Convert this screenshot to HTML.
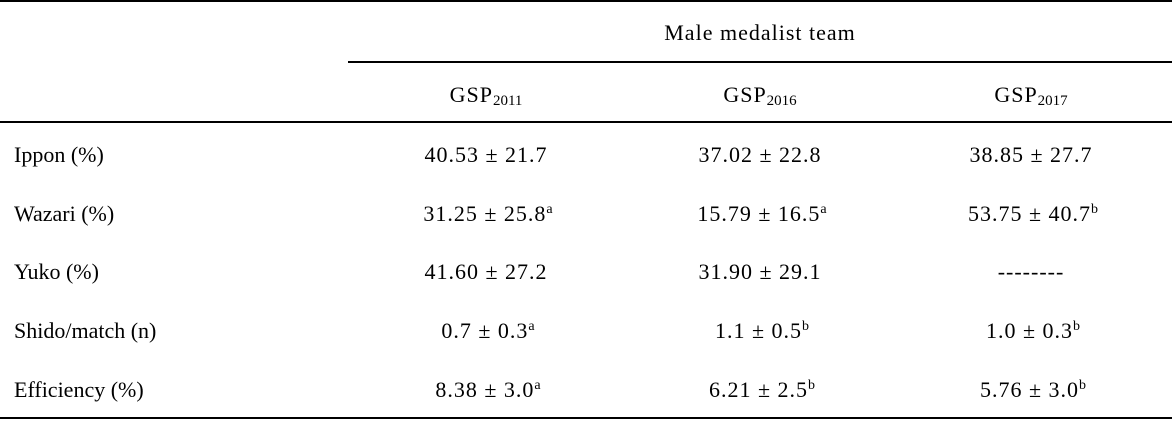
<!DOCTYPE html>
<html><head><meta charset="utf-8"><style>
body{margin:0;background:#fff;}
#t{position:relative;width:1172px;height:421px;font-family:"Liberation Serif",serif;font-size:22px;color:#000;}
.l{position:absolute;background:#000;height:2px;}
.c{position:absolute;transform:translate(-50%,-50%);white-space:nowrap;letter-spacing:1px;}
.r{position:absolute;transform:translateY(-50%);left:14px;white-space:nowrap;}
sub{font-size:15px;vertical-align:-3px;line-height:0;letter-spacing:0}
sup{font-size:14px;vertical-align:8px;line-height:0;letter-spacing:0}
</style></head><body>
<div id="t">
<div class="l" style="top:0;left:0;width:1172px"></div>
<div class="l" style="top:61px;left:348px;width:824px"></div>
<div class="l" style="top:121px;left:0;width:1172px"></div>
<div class="l" style="top:417px;left:0;width:1172px"></div>
<div class="c" style="left:760px;top:33px">Male medalist team</div>
<div class="c" style="left:486px;top:95px">GSP<sub>2011</sub></div>
<div class="c" style="left:760px;top:95px">GSP<sub>2016</sub></div>
<div class="c" style="left:1031px;top:95px">GSP<sub>2017</sub></div>

<div class="r" style="top:155px">Ippon (%)</div>
<div class="c" style="left:486px;top:155px">40.53 ± 21.7</div>
<div class="c" style="left:760px;top:155px">37.02 ± 22.8</div>
<div class="c" style="left:1031px;top:155px">38.85 ± 27.7</div>

<div class="r" style="top:214px">Wazari (%)</div>
<div class="c" style="left:488px;top:214px">31.25 ± 25.8<sup>a</sup></div>
<div class="c" style="left:762px;top:214px">15.79 ± 16.5<sup>a</sup></div>
<div class="c" style="left:1033px;top:214px">53.75 ± 40.7<sup>b</sup></div>

<div class="r" style="top:272px">Yuko (%)</div>
<div class="c" style="left:486px;top:272px">41.60 ± 27.2</div>
<div class="c" style="left:760px;top:272px">31.90 ± 29.1</div>
<div class="c" style="left:1031px;top:272px">--------</div>

<div class="r" style="top:331px">Shido/match (n)</div>
<div class="c" style="left:488px;top:331px">0.7 ± 0.3<sup>a</sup></div>
<div class="c" style="left:762px;top:331px">1.1 ± 0.5<sup>b</sup></div>
<div class="c" style="left:1033px;top:331px">1.0 ± 0.3<sup>b</sup></div>

<div class="r" style="top:390px">Efficiency (%)</div>
<div class="c" style="left:488px;top:390px">8.38 ± 3.0<sup>a</sup></div>
<div class="c" style="left:762px;top:390px">6.21 ± 2.5<sup>b</sup></div>
<div class="c" style="left:1033px;top:390px">5.76 ± 3.0<sup>b</sup></div>
</div>
</body></html>
